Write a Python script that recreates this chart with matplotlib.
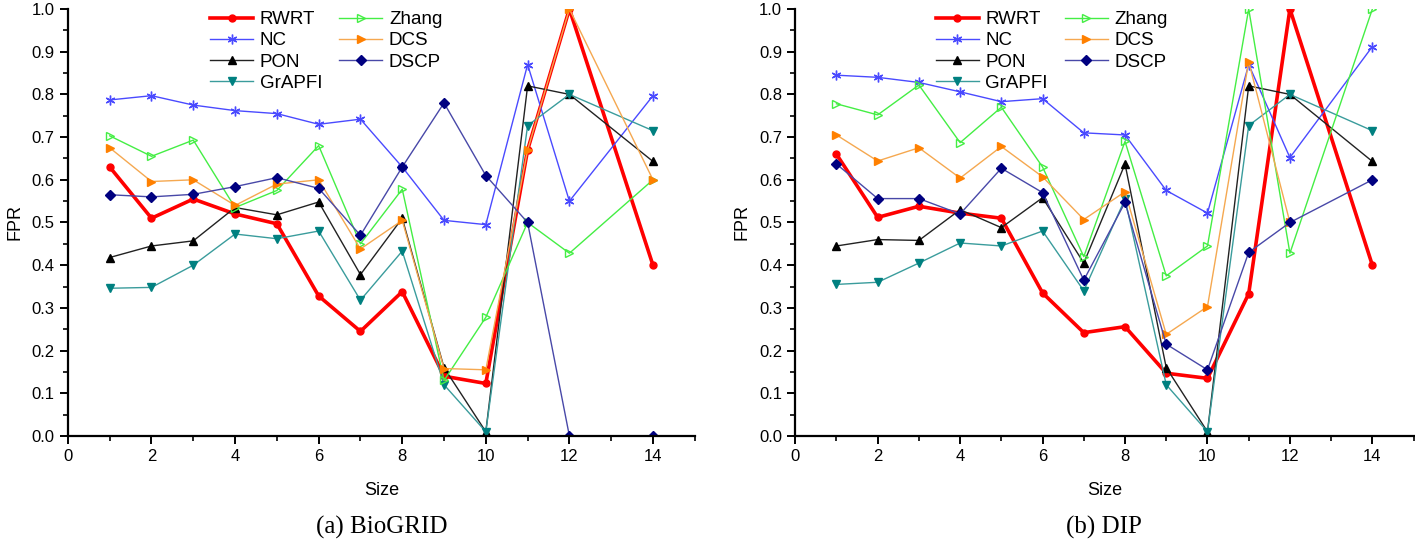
import numpy as np
import matplotlib
matplotlib.use("Agg")
import matplotlib.pyplot as plt
from matplotlib.ticker import MultipleLocator

plt.rcParams['font.family'] = ['Liberation Sans', 'DejaVu Sans']

sizes = [1, 2, 3, 4, 5, 6, 7, 8, 9, 10, 11, 12, 14]
methods = ['RWRT', 'NC', 'PON', 'GrAPFI', 'Zhang', 'DCS', 'DSCP']

# BioGRID
bio_rwrt = [0.63, 0.51, 0.555, 0.52, 0.497, 0.328, 0.245, 0.338, 0.14, 0.123, 0.67, 1.0, 0.4]
bio_zhang = [0.703, 0.655, 0.693, 0.535, 0.575, 0.68, 0.45, 0.578, 0.13, 0.278, 0.5, 0.428, 0.6]
bio_nc = [0.787, 0.797, 0.775, 0.762, 0.755, 0.73, 0.742, 0.63, 0.505, 0.495, 0.87, 0.55, 0.797]
bio_dcs = [0.675, 0.596, 0.6, 0.54, 0.59, 0.6, 0.438, 0.505, 0.158, 0.155, 0.67, 1.0, 0.6]
bio_pon = [0.418, 0.445, 0.457, 0.535, 0.518, 0.548, 0.378, 0.51, 0.16, 0.01, 0.82, 0.8, 0.643]
bio_dscp = [0.565, 0.56, 0.566, 0.584, 0.605, 0.58, 0.47, 0.63, 0.78, 0.61, 0.5, 0.0, 0.0]
bio_grapfi = [0.346, 0.348, 0.4, 0.473, 0.462, 0.48, 0.318, 0.433, 0.12, 0.01, 0.727, 0.8, 0.715]

# DIP
dip_rwrt = [0.66, 0.512, 0.538, 0.522, 0.51, 0.335, 0.242, 0.256, 0.147, 0.135, 0.333, 1.0, 0.4]
dip_zhang = [0.778, 0.752, 0.822, 0.687, 0.77, 0.63, 0.42, 0.69, 0.375, 0.445, 1.0, 0.428, 1.0]
dip_nc = [0.845, 0.84, 0.828, 0.806, 0.783, 0.79, 0.71, 0.705, 0.575, 0.522, 0.87, 0.652, 0.912]
dip_dcs = [0.705, 0.644, 0.675, 0.604, 0.678, 0.607, 0.507, 0.572, 0.238, 0.303, 0.877, 0.5, np.nan]
dip_pon = [0.445, 0.46, 0.458, 0.53, 0.488, 0.558, 0.405, 0.637, 0.16, 0.01, 0.82, 0.8, 0.643]
dip_dscp = [0.637, 0.556, 0.556, 0.52, 0.627, 0.57, 0.365, 0.547, 0.215, 0.155, 0.43, 0.5, 0.6]
dip_grapfi = [0.355, 0.36, 0.405, 0.452, 0.445, 0.48, 0.34, 0.555, 0.12, 0.01, 0.727, 0.8, 0.715]

# line colour, marker colour, marker, line width, marker size, filled
styles = {
    'RWRT': ('#ff0000', '#ff0000', 'o', 2.6, 5, True),
    'NC': ('#4a4aff', '#4a4aff', (6, 2, 0), 1.0, 7, True),
    'PON': ('#222222', '#000000', '^', 1.0, 5.5, True),
    'GrAPFI': ('#3a9c9c', '#008080', 'v', 1.0, 6, True),
    'Zhang': ('#44ee44', '#44ee44', '>', 1.0, 6, False),
    'DCS': ('#f5a850', '#ff8000', '>', 1.0, 6, True),
    'DSCP': ('#4848a8', '#000080', 'D', 1.0, 5, True),
}


def draw(ax, data, caption):
    for name in methods:
        lc, mc, mk, lw, ms, filled = styles[name]
        ax.plot(sizes, data[name], color=lc, lw=lw, marker=mk, ms=ms,
                mfc=mc if filled else 'none', mec=mc, mew=1.0, label=name)
    ax.set_xlim(0, 15)
    ax.set_ylim(0, 1.0)
    ax.xaxis.set_major_locator(MultipleLocator(2))
    ax.xaxis.set_minor_locator(MultipleLocator(1))
    ax.yaxis.set_major_locator(MultipleLocator(0.1))
    ax.yaxis.set_minor_locator(MultipleLocator(0.05))
    ax.yaxis.set_major_formatter(matplotlib.ticker.FormatStrFormatter('%.1f'))
    ax.spines['top'].set_visible(False)
    ax.spines['right'].set_visible(False)
    ax.spines['left'].set_linewidth(1.6)
    ax.spines['bottom'].set_linewidth(1.6)
    ax.tick_params(which='major', direction='out', length=6, width=1.4, labelsize=12)
    ax.tick_params(which='minor', direction='out', length=3.5, width=1.2)
    ax.set_xlabel('Size', fontsize=13, labelpad=13)
    ax.set_ylabel('FPR', fontsize=13, labelpad=6)
    ax.legend(loc='upper left', bbox_to_anchor=(0.2, 1.035), ncol=2, frameon=False,
              fontsize=13.5, handlelength=2.3, handletextpad=0.35, columnspacing=0.9,
              labelspacing=0.22)
    ax.text(0.5, -0.215, caption, transform=ax.transAxes, ha='center', va='center',
            fontsize=18, family=['Liberation Serif', 'DejaVu Serif'])


fig = plt.figure(figsize=(14.15, 5.46), dpi=100)
ax1 = fig.add_axes([0.048, 0.2015, 0.443, 0.782])
ax2 = fig.add_axes([0.562, 0.2015, 0.437, 0.782])

bio = {'RWRT': bio_rwrt, 'Zhang': bio_zhang, 'NC': bio_nc, 'DCS': bio_dcs,
       'PON': bio_pon, 'DSCP': bio_dscp, 'GrAPFI': bio_grapfi}
dip = {'RWRT': dip_rwrt, 'Zhang': dip_zhang, 'NC': dip_nc, 'DCS': dip_dcs,
       'PON': dip_pon, 'DSCP': dip_dscp, 'GrAPFI': dip_grapfi}

draw(ax1, bio, '(a) BioGRID')
draw(ax2, dip, '(b) DIP')

fig.savefig('out.png', dpi=100)
